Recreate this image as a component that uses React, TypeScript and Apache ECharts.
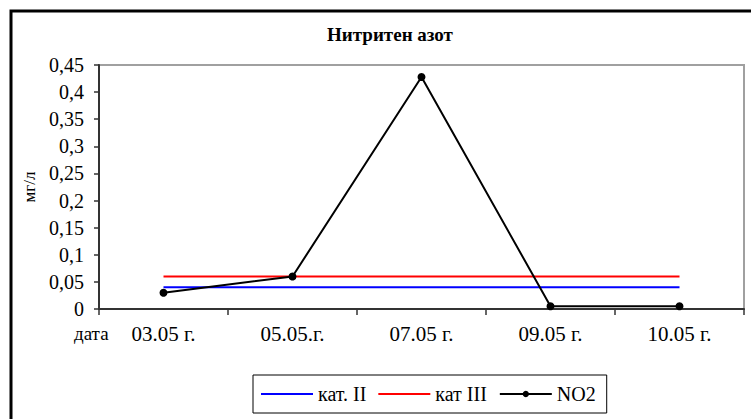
import React, { useEffect, useRef } from "react";
import * as echarts from "echarts";

const categories = ["03.05 г.", "05.05.г.", "07.05 г.", "09.05 г.", "10.05 г."];
const katII = [0.04, 0.04, 0.04, 0.04, 0.04];
const katIII = [0.06, 0.06, 0.06, 0.06, 0.06];
const no2 = [0.03, 0.06, 0.428, 0.005, 0.005];

const FONT = "Liberation Serif";
const LINE_ICON = "path://M0,0 H26 V1 H0 Z";

export default function App() {
  const ref = useRef<HTMLDivElement>(null);
  useEffect(() => {
    if (!ref.current) return;
    const chart = echarts.init(ref.current, null, { renderer: "svg" });
    chart.setOption({
      animation: false,
      backgroundColor: "#fff",
      textStyle: { fontFamily: FONT },
      title: {
        text: "Нитритен азот",
        left: 385,
        textAlign: "center",
        top: 20,
        textStyle: { fontFamily: FONT, fontWeight: "bold", fontSize: 19, color: "#000" },
      },
      grid: {
        left: 99,
        top: 65,
        right: 7,
        bottom: 110,
        show: true,
        borderColor: "#a0a0a0",
        borderWidth: 2,
        backgroundColor: "#fff",
      },
      legend: {
        left: 253,
        top: 375,
        orient: "horizontal",
        padding: [9, 11, 9, 8],
        borderColor: "#000",
        borderWidth: 1,
        itemWidth: 52,
        itemHeight: 8,
        itemGap: 12,
        textStyle: { fontFamily: FONT, fontSize: 20, color: "#000" },
        data: [
          { name: "кат. II", icon: LINE_ICON },
          { name: "кат III", icon: LINE_ICON },
          { name: "NO2" },
        ],
      },
      xAxis: {
        type: "category",
        data: categories,
        boundaryGap: true,
        axisLine: { lineStyle: { color: "#333", width: 2 } },
        axisTick: { show: true, length: 6, lineStyle: { color: "#333", width: 1.5 } },
        axisLabel: { fontFamily: FONT, fontSize: 21, color: "#000", margin: 14 },
        splitLine: { show: false },
      },
      yAxis: {
        type: "value",
        min: 0,
        max: 0.45,
        interval: 0.05,
        name: "мг/л",
        nameLocation: "middle",
        nameGap: 57,
        nameRotate: 90,
        nameTextStyle: { fontFamily: FONT, fontSize: 17, color: "#000" },
        axisLine: { show: true, lineStyle: { color: "#333", width: 2 } },
        axisTick: { show: true, length: 5, lineStyle: { color: "#333", width: 1.5 } },
        axisLabel: {
          fontFamily: FONT,
          fontSize: 20,
          color: "#000",
          margin: 15,
          formatter: (v: number) => String(Math.round(v * 100) / 100).replace(".", ","),
        },
        splitLine: { show: false },
      },
      graphic: [
        {
          type: "rect",
          shape: { x: 11, y: 11, width: 800, height: 500 },
          style: { fill: "none", stroke: "#000", lineWidth: 3 },
          silent: true,
        },
        {
          type: "text",
          x: 74,
          y: 333,
          style: { text: "дата", fontFamily: FONT, fontSize: 19, fill: "#000", textVerticalAlign: "middle" },
        },
      ],
      series: [
        {
          name: "кат. II",
          type: "line",
          data: katII,
          symbol: "none",
          lineStyle: { color: "#0000ff", width: 2 },
          itemStyle: { color: "#0000ff" },
        },
        {
          name: "кат III",
          type: "line",
          data: katIII,
          symbol: "none",
          lineStyle: { color: "#ff0000", width: 2 },
          itemStyle: { color: "#ff0000" },
        },
        {
          name: "NO2",
          type: "line",
          data: no2,
          symbol: "circle",
          symbolSize: 8,
          lineStyle: { color: "#000", width: 2 },
          itemStyle: { color: "#000" },
        },
      ],
    });
    return () => chart.dispose();
  }, []);
  return (
    <div
      ref={ref}
      style={{ position: "absolute", left: 0, top: 0, width: 751, height: 419 }}
    />
  );
}
